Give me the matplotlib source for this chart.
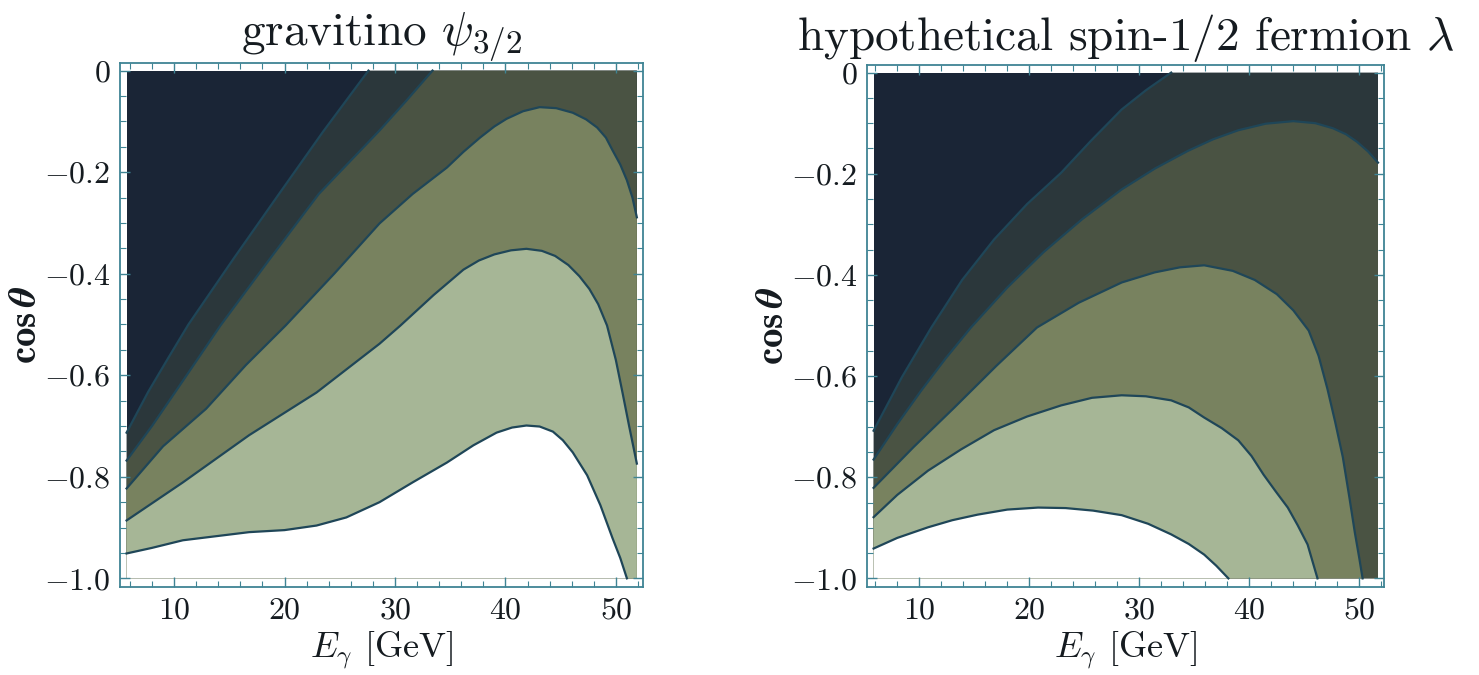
import numpy as np
import matplotlib
matplotlib.use("Agg")
import matplotlib.pyplot as plt

plt.rcParams['font.family'] = ['cmr10', 'DejaVu Serif']
plt.rcParams['mathtext.fontset'] = 'cm'
plt.rcParams['axes.formatter.use_mathtext'] = True

# contour boundaries: (E_gamma [GeV], cos theta)
grav_E_range = [5.7, 51.9]
grav_L1 = [(5.7, -0.713), (7.65, -0.633), (9.5, -0.565), (11.3, -0.50), (15.4, -0.37),
           (19.5, -0.243), (23.5, -0.12), (27.6, 0.0)]
grav_L2 = [(5.7, -0.768), (8.0, -0.70), (10.2, -0.63), (14.2, -0.502), (18.7, -0.37),
           (23.1, -0.243), (28.6, -0.118), (31.0, -0.06), (33.4, 0.0)]
grav_L3 = [(5.7, -0.823), (9.0, -0.74), (12.9, -0.666), (16.5, -0.58), (20.1, -0.502),
           (24.5, -0.40), (28.6, -0.301), (31.6, -0.243), (34.7, -0.191), (36.2, -0.16),
           (37.7, -0.132), (39.0, -0.11), (40.1, -0.095), (41.6, -0.080), (43.1, -0.072),
           (44.6, -0.074), (46.1, -0.083), (47.3, -0.096), (48.3, -0.112), (49.1, -0.132),
           (49.7, -0.157), (50.4, -0.185), (51.0, -0.216), (51.5, -0.25), (51.9, -0.289)]
grav_L4 = [(5.7, -0.886), (10.8, -0.811), (16.8, -0.718), (22.9, -0.634), (28.6, -0.538),
           (30.5, -0.502), (33.5, -0.442), (36.2, -0.392), (37.6, -0.374), (39.0, -0.362),
           (40.5, -0.354), (41.9, -0.351), (43.3, -0.355), (44.5, -0.365), (45.7, -0.383),
           (46.7, -0.405), (47.6, -0.43), (48.4, -0.46), (49.2, -0.502), (50.0, -0.57),
           (50.6, -0.634), (51.2, -0.70), (51.9, -0.774)]
grav_L5 = [(5.7, -0.951), (8.0, -0.94), (10.8, -0.925), (16.8, -0.909), (20.0, -0.905),
           (22.9, -0.896), (25.6, -0.88), (28.6, -0.850), (31.6, -0.811), (34.7, -0.772),
           (37.1, -0.738), (39.2, -0.713), (40.6, -0.703), (41.9, -0.699), (43.1, -0.701),
           (44.3, -0.711), (45.2, -0.728), (46.1, -0.752), (47.4, -0.797), (48.6, -0.856),
           (49.7, -0.921), (50.4, -0.96), (51.0, -1.0)]

ferm_E_range = [5.85, 51.7]
ferm_L1 = [(5.85, -0.708), (8.4, -0.603), (11.1, -0.504), (13.9, -0.41), (16.8, -0.330),
           (19.8, -0.26), (22.9, -0.198), (25.6, -0.135), (28.4, -0.073), (30.6, -0.035),
           (32.9, 0.0)]
ferm_L2 = [(5.85, -0.765), (8.0, -0.695), (10.2, -0.628), (12.4, -0.565), (14.7, -0.504),
           (18.0, -0.425), (21.3, -0.355), (24.8, -0.29), (28.4, -0.231), (31.4, -0.19),
           (34.4, -0.155), (36.7, -0.132), (39.0, -0.114), (41.5, -0.101), (44.0, -0.096),
           (46.0, -0.100), (47.6, -0.110), (48.8, -0.122), (49.8, -0.137), (50.8, -0.156),
           (51.7, -0.178)]
ferm_L3 = [(5.85, -0.821), (9.5, -0.74), (13.2, -0.662), (17.0, -0.58), (20.7, -0.504),
           (24.5, -0.455), (28.4, -0.415), (31.4, -0.395), (33.7, -0.385), (35.9, -0.381),
           (38.5, -0.392), (40.5, -0.41), (42.5, -0.438), (44.0, -0.47), (45.4, -0.51),
           (46.3, -0.56), (47.1, -0.625), (47.8, -0.69), (48.5, -0.76), (49.1, -0.84),
           (49.6, -0.91), (50.0, -0.96), (50.3, -1.0)]
ferm_L4 = [(5.85, -0.879), (8.0, -0.835), (10.8, -0.787), (13.8, -0.745), (16.8, -0.707),
           (19.8, -0.68), (22.9, -0.658), (25.7, -0.643), (28.4, -0.638), (30.6, -0.640),
           (32.9, -0.648), (34.5, -0.662), (35.9, -0.682), (37.5, -0.703), (39.0, -0.727),
           (40.2, -0.758), (41.3, -0.795), (42.4, -0.828), (43.5, -0.860), (44.4, -0.895),
           (45.3, -0.933), (46.2, -1.0)]
ferm_L5 = [(5.85, -0.941), (8.0, -0.92), (10.8, -0.899), (13.0, -0.885), (15.3, -0.874),
           (18.0, -0.864), (20.8, -0.860), (23.3, -0.861), (25.8, -0.866), (28.4, -0.875),
           (30.8, -0.892), (32.9, -0.913), (34.5, -0.932), (35.9, -0.953), (37.0, -0.975),
           (38.1, -1.0)]

titles = [r'gravitino $\psi_{3/2}$', r'hypothetical spin-$1/2$ fermion $\lambda$']
x_ticks = [10, 20, 30, 40, 50]
y_ticks = [0, -0.2, -0.4, -0.6, -0.8, -1.0]
y_tick_labels = ['0', '-0.2', '-0.4', '-0.6', '-0.8', '-1.0']

band_colors = ['#1a2536', '#2b373b', '#4a5343', '#78825f', '#a6b696', '#ffffff']
line_color = '#1f4658'
frame_color = '#3f8494'
text_color = '#151b20'


def draw_panel(ax, e_range, curves, title):
    e0, e1 = e_range
    ax.fill([e0, e1, e1, e0], [0, 0, -1, -1], color=band_colors[0], lw=0)
    for k, cur in enumerate(curves):
        xs = [p[0] for p in cur]
        ys = [p[1] for p in cur]
        # close the region below / right of the curve along the plot rectangle
        if ys[-1] == 0.0:
            px = xs + [e1, e1, e0]
            py = ys + [0, -1, -1]
        elif ys[-1] == -1.0:
            px = xs + [e0]
            py = ys + [-1]
        else:
            px = xs + [e1, e0]
            py = ys + [-1, -1]
        ax.fill(px, py, color=band_colors[k + 1], lw=0)
    for cur in curves:
        ax.plot([p[0] for p in cur], [p[1] for p in cur], color=line_color, lw=1.6,
                solid_joinstyle='round')

    ax.set_xlim(e0 - 0.6, e1 + 0.55)
    ax.set_ylim(-1.017, 0.015)
    ax.set_xticks(x_ticks)
    ax.set_xticks(np.arange(6, 53, 2), minor=True)
    ax.set_yticks(y_ticks)
    ax.set_yticklabels(['$' + s + '$' for s in y_tick_labels])
    ax.set_yticks(np.arange(-1.0, 0.001, 0.05), minor=True)
    ax.set_xticklabels(['$%d$' % v for v in x_ticks])
    ax.tick_params(which='both', direction='in', top=True, right=True,
                   color=frame_color, labelsize=23, labelcolor=text_color)
    ax.tick_params(which='major', length=7, width=1.0, pad=7)
    ax.tick_params(which='minor', length=4, width=0.8)
    for s in ax.spines.values():
        s.set_color(frame_color)
        s.set_linewidth(1.3)
    ax.set_xlabel(r'$E_\gamma$ [GeV]', fontsize=26, color=text_color, labelpad=4)
    ax.set_ylabel(r'$\mathbf{cos}\,\boldsymbol{\theta}$', fontsize=28, color=text_color,
                  labelpad=0)
    ax.set_title(title, fontsize=34, color=text_color, pad=11)


fig = plt.figure(figsize=(14.79, 6.75), dpi=100)
ax1 = fig.add_axes([0.0811, 0.1304, 0.3536, 0.7763])
ax2 = fig.add_axes([0.5862, 0.1304, 0.3496, 0.7733])

draw_panel(ax1, grav_E_range, [grav_L1, grav_L2, grav_L3, grav_L4, grav_L5], titles[0])
draw_panel(ax2, ferm_E_range, [ferm_L1, ferm_L2, ferm_L3, ferm_L4, ferm_L5], titles[1])

fig.savefig('out.png', dpi=100)
